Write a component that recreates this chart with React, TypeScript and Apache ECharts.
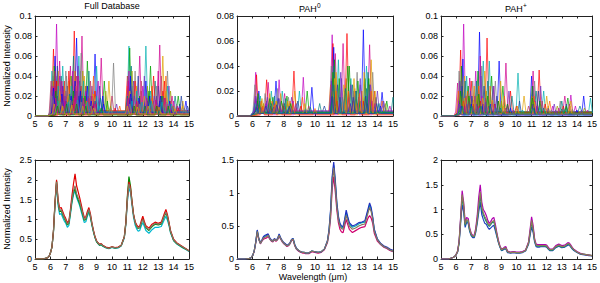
import React, { useEffect, useRef } from "react";
import * as echarts from "echarts";

// ---------- shared wavelength grid (µm) for the averaged spectra ----------
const X = [5, 5.5, 5.8, 5.9, 6.0, 6.1, 6.2, 6.3, 6.4, 6.5, 6.6, 6.7, 6.8, 6.9, 7.0, 7.1, 7.2, 7.3, 7.4, 7.5, 7.6, 7.7, 7.8, 7.9, 8.0, 8.1, 8.2, 8.3, 8.4, 8.5, 8.6, 8.7, 8.8, 8.9, 9.0, 9.1, 9.2, 9.3, 9.4, 9.6, 9.8, 10.0, 10.2, 10.4, 10.6, 10.8, 10.9, 11.0, 11.1, 11.2, 11.3, 11.4, 11.5, 11.6, 11.7, 11.8, 11.9, 12.0, 12.1, 12.2, 12.4, 12.6, 12.8, 13.0, 13.2, 13.4, 13.5, 13.6, 13.7, 13.8, 14.0, 14.2, 14.4, 14.6, 14.8, 15.0];

// ---------- bottom row: averaged spectra (Full database) ----------
const fullAvgA = [0,0,0.03,0.06,0.15,0.3,0.7,1.4,1.95,1.45,1.22,1.25,1.15,1.05,0.98,0.88,0.92,1.2,1.5,1.72,1.85,1.65,1.55,1.45,1.3,1.15,1.0,1.02,1.15,1.25,1.1,0.88,0.7,0.55,0.45,0.4,0.36,0.38,0.34,0.29,0.27,0.3,0.28,0.29,0.34,0.55,0.9,1.5,1.9,1.75,1.4,1.1,0.92,0.83,0.78,0.8,0.92,1.0,0.9,0.8,0.74,0.84,0.9,0.88,0.9,1.1,1.18,1.08,0.9,0.7,0.48,0.4,0.35,0.3,0.25,0.2];
const fullAvgB = [0,0,0.03,0.06,0.15,0.3,0.72,1.45,2.0,1.5,1.28,1.3,1.2,1.1,1.02,0.92,0.96,1.25,1.6,1.9,2.15,1.85,1.7,1.55,1.38,1.2,1.05,1.06,1.2,1.3,1.14,0.9,0.72,0.56,0.46,0.41,0.37,0.39,0.35,0.3,0.28,0.31,0.29,0.3,0.35,0.56,0.92,1.55,1.95,1.8,1.45,1.13,0.95,0.86,0.81,0.83,0.96,1.08,0.95,0.84,0.78,0.88,0.93,0.9,0.93,1.15,1.25,1.12,0.93,0.72,0.5,0.41,0.36,0.31,0.26,0.21];
const fullAvgC = [0,0,0.03,0.06,0.15,0.3,0.68,1.35,1.9,1.35,1.12,1.15,1.05,0.96,0.9,0.8,0.85,1.12,1.42,1.62,1.72,1.55,1.45,1.35,1.2,1.06,0.92,0.94,1.08,1.18,1.04,0.84,0.67,0.53,0.43,0.38,0.34,0.36,0.32,0.28,0.26,0.29,0.27,0.28,0.33,0.53,0.86,1.45,1.8,1.68,1.35,1.05,0.86,0.76,0.7,0.72,0.83,0.92,0.82,0.72,0.65,0.74,0.8,0.8,0.82,1.0,1.08,0.98,0.84,0.66,0.46,0.38,0.33,0.28,0.24,0.19];
const fullAvgD = [0,0,0.03,0.06,0.15,0.3,0.7,1.42,1.97,1.42,1.2,1.22,1.12,1.03,0.95,0.86,0.9,1.18,1.48,1.68,1.78,1.6,1.5,1.4,1.26,1.12,0.98,1.0,1.13,1.24,1.08,0.86,0.69,0.54,0.44,0.39,0.35,0.37,0.33,0.29,0.27,0.3,0.28,0.29,0.34,0.56,0.93,1.6,2.08,1.85,1.45,1.12,0.93,0.82,0.77,0.79,0.9,1.02,0.9,0.79,0.72,0.82,0.88,0.86,0.88,1.08,1.16,1.06,0.89,0.69,0.47,0.39,0.34,0.29,0.25,0.2];

// ---------- bottom row: averaged spectra (PAH0) ----------
const pah0AvgA = [0,0,0.01,0.02,0.05,0.12,0.25,0.42,0.3,0.24,0.28,0.32,0.33,0.34,0.36,0.31,0.28,0.27,0.3,0.28,0.3,0.36,0.31,0.27,0.24,0.22,0.2,0.21,0.24,0.29,0.3,0.21,0.16,0.14,0.12,0.11,0.1,0.1,0.09,0.09,0.12,0.11,0.1,0.11,0.15,0.27,0.42,0.68,1.15,1.38,1.12,0.8,0.6,0.5,0.46,0.45,0.55,0.66,0.58,0.5,0.45,0.47,0.5,0.52,0.53,0.7,0.78,0.72,0.6,0.42,0.29,0.23,0.19,0.17,0.14,0.12];
const pah0AvgB = [0,0,0.01,0.02,0.05,0.12,0.26,0.44,0.31,0.25,0.29,0.34,0.36,0.37,0.38,0.32,0.29,0.28,0.31,0.29,0.31,0.38,0.32,0.28,0.25,0.23,0.21,0.22,0.25,0.3,0.31,0.22,0.17,0.14,0.12,0.11,0.1,0.1,0.09,0.09,0.12,0.11,0.1,0.11,0.15,0.28,0.45,0.75,1.25,1.47,1.2,0.86,0.65,0.54,0.5,0.49,0.6,0.74,0.64,0.55,0.5,0.52,0.55,0.56,0.58,0.76,0.85,0.78,0.64,0.45,0.3,0.24,0.2,0.18,0.15,0.13];
const pah0AvgC = [0,0,0.01,0.02,0.05,0.11,0.24,0.4,0.29,0.23,0.27,0.3,0.31,0.32,0.34,0.3,0.27,0.26,0.29,0.27,0.29,0.34,0.3,0.26,0.23,0.21,0.19,0.2,0.23,0.28,0.29,0.2,0.15,0.13,0.11,0.1,0.09,0.09,0.08,0.08,0.11,0.1,0.09,0.1,0.14,0.25,0.39,0.62,1.05,1.25,1.02,0.74,0.55,0.45,0.41,0.4,0.5,0.6,0.52,0.45,0.4,0.43,0.46,0.48,0.49,0.62,0.66,0.62,0.54,0.39,0.27,0.22,0.18,0.16,0.13,0.11];
const pah0AvgD = [0,0,0.01,0.02,0.05,0.12,0.25,0.43,0.3,0.24,0.28,0.33,0.34,0.36,0.37,0.31,0.28,0.27,0.3,0.28,0.3,0.37,0.31,0.27,0.24,0.22,0.2,0.21,0.24,0.29,0.31,0.22,0.16,0.14,0.12,0.11,0.1,0.1,0.09,0.09,0.12,0.11,0.1,0.11,0.15,0.27,0.43,0.72,1.2,1.42,1.16,0.83,0.62,0.52,0.48,0.47,0.58,0.7,0.62,0.53,0.48,0.5,0.53,0.55,0.56,0.73,0.82,0.75,0.62,0.44,0.3,0.23,0.19,0.17,0.14,0.12];

// ---------- bottom row: averaged spectra (PAH+) ----------
const pahpAvgA = [0,0,0.03,0.05,0.09,0.15,0.35,0.8,1.3,1.1,0.7,0.8,0.78,0.6,0.5,0.46,0.46,0.58,0.8,1.1,1.35,1.05,0.93,0.86,0.8,0.72,0.68,0.72,0.76,0.78,0.65,0.5,0.36,0.26,0.19,0.2,0.22,0.22,0.15,0.13,0.14,0.13,0.13,0.14,0.17,0.33,0.55,0.78,0.62,0.38,0.28,0.27,0.27,0.27,0.27,0.27,0.27,0.26,0.22,0.19,0.19,0.25,0.28,0.25,0.26,0.31,0.3,0.26,0.22,0.19,0.14,0.11,0.1,0.09,0.08,0.07];
const pahpAvgB = [0,0,0.03,0.05,0.09,0.16,0.37,0.85,1.38,1.15,0.74,0.84,0.82,0.63,0.52,0.48,0.48,0.62,0.88,1.25,1.5,1.15,1.0,0.95,0.88,0.78,0.72,0.76,0.82,0.84,0.7,0.53,0.38,0.27,0.2,0.21,0.24,0.25,0.16,0.14,0.15,0.14,0.14,0.15,0.18,0.35,0.6,0.85,0.68,0.41,0.3,0.29,0.29,0.29,0.29,0.29,0.29,0.28,0.24,0.2,0.2,0.27,0.3,0.27,0.28,0.33,0.32,0.28,0.23,0.2,0.15,0.12,0.1,0.09,0.08,0.07];
const pahpAvgC = [0,0,0.03,0.05,0.08,0.14,0.32,0.72,1.1,0.95,0.64,0.74,0.72,0.56,0.47,0.43,0.43,0.54,0.72,0.95,1.15,0.9,0.8,0.72,0.7,0.64,0.6,0.63,0.66,0.68,0.57,0.45,0.33,0.24,0.17,0.18,0.2,0.2,0.13,0.12,0.13,0.12,0.12,0.13,0.16,0.3,0.48,0.65,0.54,0.34,0.25,0.24,0.24,0.25,0.25,0.25,0.25,0.24,0.2,0.17,0.17,0.23,0.26,0.23,0.24,0.28,0.28,0.24,0.2,0.17,0.13,0.1,0.09,0.08,0.07,0.06];
const pahpAvgD = [0,0,0.03,0.05,0.09,0.15,0.34,0.78,1.25,1.05,0.68,0.78,0.76,0.58,0.49,0.45,0.45,0.57,0.78,1.05,1.28,1.0,0.9,0.82,0.76,0.7,0.66,0.7,0.74,0.75,0.63,0.48,0.35,0.25,0.18,0.19,0.21,0.23,0.15,0.13,0.14,0.13,0.13,0.14,0.17,0.32,0.52,0.74,0.6,0.37,0.27,0.26,0.26,0.26,0.26,0.26,0.26,0.25,0.21,0.18,0.18,0.24,0.27,0.24,0.25,0.3,0.29,0.25,0.21,0.18,0.14,0.11,0.1,0.09,0.08,0.07];

// ---------- top row: individual spectra, peaks as [wavelength, intensity, ...] ----------
const fullPeaks = [
  [6.4,.092,7.6,.03,8.6,.02,11.3,.025,12.7,.015,13.9,.01],
  [6.2,.067,6.9,.035,7.55,.085,8.3,.03,11.0,.04,12.4,.02,13.3,.025],
  [6.3,.06,7.7,.078,8.9,.062,11.2,.03,12.9,.02,14.4,.012],
  [6.6,.055,7.3,.05,8.05,.08,9.3,.058,11.8,.06,13.1,.071],
  [6.1,.045,6.8,.05,7.85,.06,9.0,.05,11.1,.07,12.2,.07],
  [6.15,.04,7.0,.045,8.0,.063,10.1,.053,11.5,.045,13.6,.045],
  [6.25,.05,7.4,.04,8.4,.055,9.5,.035,11.15,.068,12.5,.05,14.3,.02],
  [6.5,.045,7.2,.035,8.2,.04,9.8,.035,11.6,.03,13.3,.06,14.6,.015],
  [6.35,.04,7.8,.05,8.7,.03,11.4,.035,12.1,.04,13.7,.03],
  [6.7,.04,7.5,.06,8.5,.045,11.25,.05,12.8,.035,14.1,.02],
  [6.2,.035,6.9,.03,7.6,.045,8.8,.04,11.0,.03,12.6,.03,13.5,.04],
  [6.45,.05,7.1,.03,7.9,.035,9.2,.03,11.7,.04,13.0,.03,14.5,.02],
  [6.55,.035,7.3,.04,8.1,.045,9.6,.025,11.3,.045,12.3,.03,13.8,.025],
  [6.3,.045,7.0,.025,7.7,.04,8.6,.035,10.0,.02,11.9,.035,13.2,.04],
  [6.1,.03,6.6,.04,7.45,.045,8.3,.025,9.1,.035,11.1,.045,12.0,.03,14.0,.015],
  [6.4,.035,7.2,.045,8.0,.03,8.9,.025,11.5,.035,12.7,.04,13.4,.035],
  [6.8,.03,7.6,.035,8.4,.03,9.4,.02,11.2,.04,12.2,.035,14.8,.015],
  [6.25,.03,6.75,.035,7.8,.04,8.7,.02,11.05,.035,13.0,.045,13.9,.02],
  [6.5,.03,7.35,.03,8.15,.035,9.0,.02,11.6,.025,12.5,.025,13.6,.03],
  [6.15,.025,7.05,.04,7.95,.045,8.55,.03,11.35,.03,12.9,.03,14.2,.012],
  [6.35,.025,7.5,.025,8.25,.02,9.7,.015,11.8,.02,12.4,.025,13.2,.02],
  [6.6,.025,7.15,.02,8.8,.022,11.15,.025,12.1,.02,13.5,.025,14.6,.01],
  [6.2,.02,6.95,.02,7.7,.025,8.45,.02,10.3,.012,11.45,.02,12.75,.02,14.4,.01],
  [6.45,.02,7.25,.022,8.05,.02,9.25,.018,11.0,.02,13.3,.02],
  [6.7,.02,7.55,.018,8.35,.015,10.5,.01,11.7,.015,12.6,.018,13.8,.015],
  [6.3,.015,7.0,.015,7.85,.02,8.9,.015,11.25,.018,12.3,.015,13.1,.015,14.9,.01],
  [6.55,.015,7.4,.015,8.6,.012,9.9,.01,11.55,.012,12.85,.012,14.0,.01],
  [6.05,.035,6.85,.025,7.65,.03,8.5,.018,11.9,.025,13.4,.018],
  [6.4,.012,7.1,.012,7.75,.015,8.2,.012,11.1,.012,12.2,.01,13.6,.012],
  [6.65,.01,7.45,.012,8.75,.01,10.2,.008,11.4,.01,12.95,.01,14.3,.008],
  [6.2,.028,6.75,.022,7.35,.02,7.95,.025,8.65,.015,9.45,.012,11.2,.022,11.75,.018,12.45,.02,13.15,.02,13.75,.015],
  [6.35,.018,6.95,.015,7.6,.02,8.15,.018,8.9,.012,11.05,.018,11.6,.015,12.25,.018,12.85,.016,13.45,.018,14.25,.01],
  [6.5,.015,7.15,.014,7.75,.016,8.4,.014,9.15,.01,11.3,.015,11.95,.014,12.55,.015,13.25,.014,13.85,.012],
  [6.1,.02,6.65,.014,7.3,.016,8.0,.014,8.6,.01,9.9,.008,11.15,.012,11.8,.012,12.65,.012,13.55,.014,14.7,.008],
  [6.45,.01,7.05,.012,7.7,.012,8.3,.01,9.3,.008,11.45,.01,12.15,.01,12.9,.01,13.65,.01],
  [6.25,.012,6.8,.01,7.4,.011,8.1,.01,8.8,.008,11.0,.01,11.65,.009,12.35,.01,13.05,.009,14.1,.007],
];
const fullBase = [0.003,0.004,0.002,0.004,0.005,0.003,0.004,0.002,0.003,0.003,0.005,0.002,0.004,0.004,0.003,0.005,0.002,0.004,0.003,0.004,0.002,0.003,0.002,0.003,0.002,0.004,0.002,0.003,0.002,0.001,0.003,0.002,0.004,0.002,0.001,0.002];

const pah0Peaks = [
  [6.2,.035,7.7,.029,9.25,.031,11.1,.065,12.5,.02,13.5,.025],
  [6.25,.033,6.9,.029,8.65,.036,11.15,.058,12.05,.066,13.8,.02],
  [6.4,.02,7.5,.028,9.8,.023,11.2,.055,13.1,.069,14.3,.019],
  [6.3,.015,7.0,.027,8.05,.018,11.3,.05,11.8,.058,13.5,.057],
  [6.5,.016,7.2,.02,7.9,.02,9.0,.02,11.5,.045,12.3,.03,13.3,.04],
  [6.15,.025,6.8,.018,7.6,.022,8.3,.015,11.05,.04,12.7,.035,13.7,.035],
  [6.35,.018,7.3,.015,8.2,.016,9.5,.02,11.25,.045,12.2,.04,13.2,.03,14.6,.012],
  [6.6,.014,7.1,.018,7.8,.018,8.7,.02,11.35,.035,12.5,.03,13.6,.045],
  [6.2,.016,6.95,.015,8.5,.015,11.1,.03,11.65,.035,12.9,.025,14.0,.02],
  [6.45,.012,7.4,.016,8.1,.014,10.3,.01,11.2,.04,12.4,.025,13.4,.035,15.0,.015],
  [6.55,.012,7.25,.012,8.4,.012,9.2,.015,11.0,.025,12.0,.03,13.0,.02,14.3,.012],
  [6.25,.01,7.65,.014,8.9,.012,10.6,.008,11.45,.025,12.6,.02,13.9,.015],
  [6.7,.01,7.55,.012,8.25,.01,11.15,.02,11.9,.02,13.2,.015,14.5,.01],
  [6.35,.008,7.05,.01,7.95,.01,9.6,.008,11.3,.018,12.8,.015,13.5,.018],
  [6.2,.012,6.85,.01,7.45,.01,8.6,.012,11.05,.015,12.15,.015,13.65,.012,14.8,.008],
  [6.5,.008,7.15,.008,8.0,.008,9.1,.008,11.4,.012,12.45,.012,13.1,.012],
  [6.3,.006,7.35,.007,8.35,.007,11.2,.015,12.25,.01,13.35,.01,14.2,.008],
  [6.6,.007,7.75,.008,8.8,.006,11.6,.01,12.7,.01,13.8,.01],
  [6.15,.01,7.0,.009,8.15,.008,9.4,.006,11.1,.012,11.75,.015,12.9,.012],
  [6.4,.006,7.6,.006,8.5,.007,11.3,.008,12.35,.008,13.6,.008],
  [6.3,.012,7.1,.014,7.85,.012,8.45,.01,11.15,.035,11.55,.03,12.1,.04,12.75,.028,13.45,.03],
  [6.55,.01,7.5,.012,8.25,.012,9.35,.01,11.25,.03,11.85,.025,12.55,.022,13.15,.035,13.85,.02],
  [6.2,.014,6.9,.012,7.7,.014,8.8,.01,11.05,.028,11.7,.03,12.3,.025,12.9,.03,13.55,.025,14.4,.012],
  [6.45,.009,7.2,.01,8.05,.01,9.7,.007,11.2,.025,11.95,.022,12.65,.02,13.3,.022,14.1,.01],
  [6.65,.008,7.4,.009,8.6,.01,10.0,.006,11.35,.02,12.15,.02,12.85,.018,13.6,.02],
  [6.25,.007,6.85,.008,7.55,.009,8.35,.008,11.1,.016,11.6,.015,12.45,.015,13.25,.016,13.95,.01],
];
const pah0Base = [0.002,0.003,0.002,0.004,0.002,0.003,0.002,0.003,0.003,0.002,0.002,0.003,0.003,0.002,0.002,0.002,0.003,0.001,0.003,0.002,0.003,0.002,0.004,0.002,0.001,0.002];

const pahpPeaks = [
  [6.5,.092,7.3,.045,8.5,.03,11.1,.03,13.6,.021],
  [6.3,.066,7.0,.035,8.05,.078,9.6,.025,11.5,.046],
  [6.45,.057,7.55,.084,8.85,.055,11.0,.04,14.45,.02],
  [6.1,.033,6.9,.038,7.6,.06,9.3,.053,11.1,.045,13.2,.02],
  [6.7,.04,7.8,.055,8.2,.055,10.1,.043,11.8,.025,14.9,.018],
  [6.2,.045,7.1,.035,7.7,.05,8.6,.035,11.2,.035,12.9,.015],
  [6.35,.05,6.8,.03,7.45,.045,8.35,.04,9.1,.03,11.05,.03,13.4,.018],
  [6.55,.04,7.2,.03,7.9,.045,8.95,.035,10.5,.02,12.0,.02,13.6,.015],
  [6.25,.035,6.95,.025,7.65,.04,8.45,.03,9.5,.025,11.6,.03,12.5,.012],
  [6.6,.035,7.35,.035,8.1,.035,9.7,.02,11.3,.025,13.0,.015,14.2,.01],
  [6.15,.025,6.75,.025,7.5,.03,8.25,.03,9.2,.02,11.15,.02,12.2,.015],
  [6.4,.03,7.05,.02,7.85,.03,8.7,.02,10.2,.015,11.45,.025,13.3,.012],
  [6.3,.02,6.9,.018,7.4,.02,8.0,.025,9.0,.015,11.0,.02,12.7,.01,14.5,.008],
  [6.65,.02,7.25,.02,7.95,.018,8.8,.015,10.8,.01,11.7,.015,13.5,.012],
  [6.2,.015,6.85,.015,7.7,.02,8.4,.015,9.4,.012,11.25,.015,12.4,.01,13.9,.01],
  [6.5,.015,7.15,.012,7.6,.015,8.55,.012,10.0,.01,11.9,.012,13.1,.01],
  [6.35,.01,7.0,.012,7.8,.012,8.3,.012,9.6,.008,11.1,.012,12.1,.008,14.0,.006],
  [6.6,.01,7.45,.01,8.15,.01,9.25,.008,11.4,.01,12.8,.008,14.7,.006],
  [6.25,.008,6.95,.008,7.55,.008,8.65,.008,10.4,.006,11.55,.008,13.25,.008],
  [6.45,.006,7.3,.006,8.05,.007,9.05,.006,11.0,.007,12.3,.006,13.7,.007],
  [6.3,.025,6.85,.02,7.5,.022,8.1,.02,8.8,.015,9.4,.012,11.05,.018,11.55,.015,13.3,.01],
  [6.55,.018,7.15,.016,7.75,.018,8.4,.016,9.15,.01,10.05,.01,11.2,.014,12.1,.01,13.55,.01],
  [6.2,.012,6.7,.012,7.35,.012,7.95,.014,8.6,.012,9.8,.006,11.35,.01,12.6,.006,14.3,.006],
  [6.4,.01,7.05,.01,7.65,.01,8.25,.01,8.95,.008,11.1,.008,11.8,.008,13.0,.007],
];
const pahpBase = [0.003,0.004,0.002,0.004,0.003,0.002,0.004,0.003,0.002,0.004,0.003,0.002,0.003,0.002,0.002,0.003,0.001,0.002,0.001,0.002,0.003,0.002,0.001,0.002];

// ---------- axes / labels ----------
const xMin = 5;
const xMax = 15;
const xInterval = 1;
const yMaxes = [0.1, 0.08, 0.1, 2.5, 1.5, 2];
const yIntervals = [0.02, 0.02, 0.02, 0.5, 0.5, 0.5];
const yTitle = "Normalized Intensity";
const xTitle = "Wavelength (\u03bcm)";
const panelTitles = ["Full Database", "PAH", "PAH"];
const panelSups = ["", "0", "+"];

const PALETTE = ["#c000c0", "#ff0000", "#0000ff", "#d0008f", "#00b0b0", "#808080", "#00a000", "#e0a000", "#7030c0", "#008080", "#ff6000", "#2040a0", "#a0a000", "#c03060"];
const FONT = "'Liberation Sans', Arial, Helvetica, sans-serif";
const HALF = 0.13;

function spikeLine(peaks: number[], base: number) {
  const pairs: number[][] = [];
  for (let i = 0; i < peaks.length; i += 2) pairs.push([peaks[i], peaks[i + 1]]);
  pairs.sort((a, b) => a[0] - b[0]);
  const pts: number[][] = [[5, 0], [5.85, 0]];
  let lastX = 5.85;
  for (const [x, h] of pairs) {
    const l = Math.max(x - HALF, lastX + 0.01);
    if (l < x) pts.push([l, base]);
    pts.push([x, h]);
    pts.push([x + HALF, base]);
    lastX = x + HALF;
  }
  pts.push([15, base]);
  return pts;
}

function onGrid(vals: number[]) {
  return X.map((x, i) => [x, vals[i]]);
}

export default function App() {
  const ref = useRef<HTMLDivElement>(null);

  useEffect(() => {
    document.body.style.margin = "0";
    if (!ref.current) return;
    const chart = echarts.init(ref.current, null, { renderer: "svg" });

    const grids = [
      { left: 35, top: 16, width: 154, height: 100 },
      { left: 237, top: 16, width: 156, height: 100 },
      { left: 441, top: 16, width: 154, height: 100 },
      { left: 35, top: 160, width: 154, height: 99 },
      { left: 237, top: 160, width: 156, height: 99 },
      { left: 441, top: 160, width: 154, height: 99 },
    ];

    const axisLine = { show: true, onZero: false, lineStyle: { color: "#222", width: 1 } };
    const axisTick = { show: true, inside: true, length: 2.5, lineStyle: { color: "#222", width: 1 } };
    const labelStyle = { fontSize: 9, color: "#000", fontFamily: FONT };

    const xAxes: any[] = [];
    const yAxes: any[] = [];
    for (let i = 0; i < 6; i++) {
      xAxes.push({
        type: "value", gridIndex: i, min: xMin, max: xMax, interval: xInterval, position: "bottom",
        axisLine, axisTick, splitLine: { show: false },
        axisLabel: { ...labelStyle, margin: 3, showMinLabel: true, showMaxLabel: true },
      });
      yAxes.push({
        type: "value", gridIndex: i, min: 0, max: yMaxes[i], interval: yIntervals[i], position: "left",
        axisLine, axisTick, splitLine: { show: false },
        axisLabel: { ...labelStyle, margin: 3, formatter: (v: number) => String(Number(v.toFixed(3))) },
      });
    }
    for (let i = 0; i < 6; i++) {
      xAxes.push({
        type: "value", gridIndex: i, min: xMin, max: xMax, interval: xInterval, position: "top",
        axisLine, axisTick, splitLine: { show: false }, axisLabel: { show: false },
      });
      yAxes.push({
        type: "value", gridIndex: i, min: 0, max: yMaxes[i], interval: yIntervals[i], position: "right",
        axisLine, axisTick, splitLine: { show: false }, axisLabel: { show: false },
      });
    }

    const series: any[] = [];
    const topSets = [
      { peaks: fullPeaks, base: fullBase },
      { peaks: pah0Peaks, base: pah0Base },
      { peaks: pahpPeaks, base: pahpBase },
    ];
    topSets.forEach((set, p) => {
      set.peaks.forEach((pk, j) => {
        series.push({
          type: "line", xAxisIndex: p, yAxisIndex: p, data: spikeLine(pk, set.base[j] ?? 0.002),
          showSymbol: false, silent: true,
          lineStyle: { width: 0.7, color: PALETTE[j % PALETTE.length] },
        });
      });
    });

    const bottomSets = [
      { lines: [fullAvgC, fullAvgD, fullAvgB, fullAvgA], colors: ["#00b8d0", "#008a00", "#e00000", "#857560"] },
      { lines: [pah0AvgC, pah0AvgD, pah0AvgB, pah0AvgA], colors: ["#d0006f", "#00b0b0", "#2030c0", "#857560"] },
      { lines: [pahpAvgC, pahpAvgD, pahpAvgB, pahpAvgA], colors: ["#2040c0", "#008a70", "#b000b0", "#8a7d55"] },
    ];
    bottomSets.forEach((set, p) => {
      set.lines.forEach((vals, j) => {
        series.push({
          type: "line", xAxisIndex: p + 3, yAxisIndex: p + 3, data: onGrid(vals),
          showSymbol: false, silent: true,
          lineStyle: { width: 1.2, color: set.colors[j] },
        });
      });
    });

    const titleX = [112, 299, 505];
    const graphics: any[] = [];
    panelTitles.forEach((t, i) => {
      if (!panelSups[i]) {
        graphics.push({ type: "text", x: titleX[i], y: 6, style: { text: t, fontSize: 9, fontFamily: FONT, fill: "#000", align: "center", verticalAlign: "middle" } });
      } else {
        graphics.push({ type: "text", x: titleX[i], y: 9, style: { text: t, fontSize: 9, fontFamily: FONT, fill: "#000", align: "left", verticalAlign: "middle" } });
        graphics.push({ type: "text", x: titleX[i] + 18, y: 5, style: { text: panelSups[i], fontSize: 6.5, fontFamily: FONT, fill: "#000", align: "left", verticalAlign: "middle" } });
      }
    });
    [66, 209].forEach((cy) => {
      graphics.push({ type: "text", x: 7, y: cy, rotation: Math.PI / 2, style: { text: yTitle, fontSize: 9, fontFamily: FONT, fill: "#000", align: "center", verticalAlign: "middle" } });
    });
    graphics.push({ type: "text", x: 313, y: 277, style: { text: xTitle, fontSize: 9, fontFamily: FONT, fill: "#000", align: "center", verticalAlign: "middle" } });

    chart.setOption({
      animation: false,
      backgroundColor: "#fff",
      grid: grids,
      xAxis: xAxes,
      yAxis: yAxes,
      series,
      graphic: graphics,
    });

    return () => chart.dispose();
  }, []);

  return <div ref={ref} style={{ width: 600, height: 283 }} />;
}
